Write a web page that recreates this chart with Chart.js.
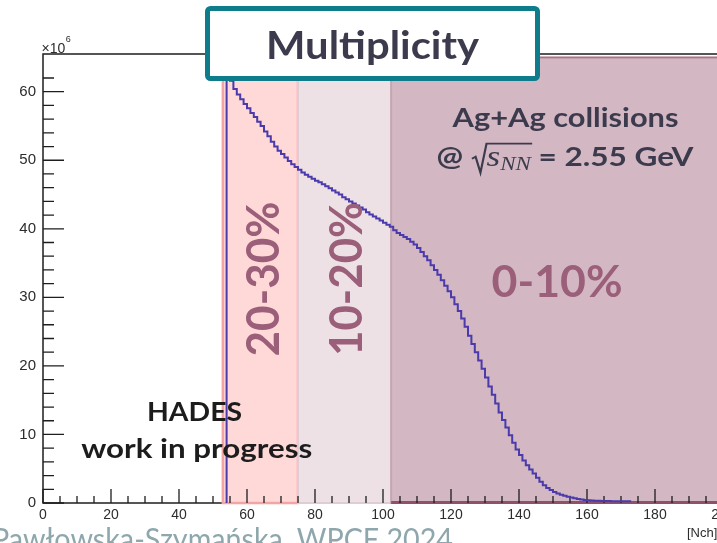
<!DOCTYPE html>
<html>
<head>
<meta charset="utf-8">
<script src="https://cdn.jsdelivr.net/npm/chart.js@4/dist/chart.umd.min.js"></script>
<style>
  html, body { margin: 0; padding: 0; background: #fff; overflow: hidden; }
  #wrap { position: absolute; left: 0; top: 0; width: 760px; height: 543px; }
</style>
</head>
<body>
<div id="wrap"><canvas id="c" width="760" height="543"></canvas></div>
<script>
// Events with multiplicity >= Nch, in units of 10^6, one value per unit bin starting at binStart
const binStart = 54;
const counts = [
  63.5, 61.6, 60.4, 59.6, 58.9, 58.2, 57.6, 56.9, 56.3, 55.6,   // 54-63
  55.0, 54.2, 53.5, 52.7, 52.0, 51.4, 50.9, 50.4, 49.9, 49.4,   // 64-73
  49.0, 48.6, 48.2, 47.9, 47.6, 47.3, 47.0, 46.8, 46.5, 46.2,   // 74-83
  45.9, 45.6, 45.3, 45.0, 44.6, 44.3, 44.0, 43.7, 43.4, 43.1,   // 84-93
  42.8, 42.4, 42.1, 41.8, 41.5, 41.2, 40.9, 40.6, 40.3, 39.8,   // 94-103
  39.4, 39.1, 38.8, 38.5, 38.1, 37.7, 37.2, 36.6, 36.0, 35.4,   // 104-113
  34.7, 34.0, 33.3, 32.5, 31.7, 30.9, 30.0, 29.0, 28.0, 26.9,   // 114-123
  25.7, 24.4, 23.2, 22.0, 20.8, 19.6, 18.3, 17.0, 15.8, 14.5,   // 124-133
  13.2, 12.1, 11.0, 9.9, 8.8, 7.8, 7.0, 6.2, 5.5, 4.9,          // 134-143
  4.3, 3.7, 3.1, 2.6, 2.2, 1.9, 1.6, 1.4, 1.2, 1.05,            // 144-153
  0.9, 0.8, 0.7, 0.6, 0.5, 0.45, 0.4, 0.35, 0.33, 0.31,         // 154-163
  0.3, 0.29, 0.28, 0.27, 0.27, 0.26, 0.26, 0.25, 0.25           // 164-172
];

// Centrality classes along Nch
const bandLabels = ['20-30%', '10-20%', '0-10%'];
const bandFrom = [52.9, 75.0, 102.4];
const bandTo = [75.0, 102.4, 200];
const bandTop = 65;

// Axis ranges and tick steps
const xMin = 0, xMax = 200, xStep = 5, xLabelEvery = 20;
const yMin = 0, yMax = 65.5, yStep = 2, yLabelEvery = 10;

const titleText = 'Multiplicity';
const systemText = 'Ag+Ag collisions';
const hadesText = ['HADES', 'work in progress'];
const footerText = 'Pawłowska-Szymańska, WPCF 2024';
const xTitle = '[Nch]';

// Histogram outline points: one point at each bin's low edge
const points = [{ x: binStart, y: 0 }]
  .concat(counts.map((c, i) => ({ x: binStart + i, y: c })))
  .concat([{ x: binStart + counts.length, y: counts[counts.length - 1] }]);

const bandFill = ['#ffd8d8', '#ede1e6', '#d3b8c3'];
const bandEdge = ['#f5a4a4', '#e0ccd5', '#c6a4b3'];
const labelColor = '#9b5f7a';
const darkText = '#3c3b4e';

// draw a string stretched horizontally to a given width
function fitText(ctx, str, x, baseY, font, width, align) {
  ctx.font = font;
  const w = ctx.measureText(str).width;
  ctx.save();
  ctx.translate(x, baseY);
  ctx.scale(width / w, 1);
  ctx.textAlign = align || 'center';
  ctx.textBaseline = 'alphabetic';
  ctx.fillText(str, 0, 0);
  ctx.restore();
}

function drawEnergyLine(ctx, left, base, width) {
  const bold = 'bold 26px Lato';
  const ital = 'italic 29px "Liberation Serif"';
  const sub = 'italic 19px "Liberation Serif"';
  const parts = [
    { t: '@ ', f: bold },
    { sqrt: true, w: 13 },
    { t: 's', f: ital, dy: 0 },
    { t: 'NN', f: sub, dy: 4 },
    { t: ' = 2.55 GeV', f: bold }
  ];
  let total = 0;
  parts.forEach(p => {
    if (p.sqrt) { p.wd = p.w; } else { ctx.font = p.f; p.wd = ctx.measureText(p.t).width; }
    total += p.wd;
  });
  const k = width / total;
  ctx.save();
  ctx.translate(left, base);
  ctx.scale(k, 1);
  ctx.textAlign = 'left';
  ctx.textBaseline = 'alphabetic';
  ctx.fillStyle = darkText;
  ctx.strokeStyle = darkText;
  let cx = 0, sqrtX = 0, barEnd = 0;
  parts.forEach(p => {
    if (p.sqrt) { sqrtX = cx; }
    else {
      ctx.font = p.f;
      ctx.fillText(p.t, cx, p.dy || 0);
      if (p.t === 'NN') barEnd = cx + p.wd;
    }
    cx += p.wd;
  });
  ctx.lineWidth = 1.8;
  ctx.lineJoin = 'miter';
  ctx.beginPath();
  ctx.moveTo(sqrtX + 1, -7);
  ctx.lineTo(sqrtX + 4, -9);
  ctx.lineTo(sqrtX + 8, 7);
  ctx.lineTo(sqrtX + 13, -22);
  ctx.lineTo(barEnd + 1, -22);
  ctx.stroke();
  ctx.restore();
}

const decor = {
  id: 'decor',
  beforeDatasetsDraw(chart) {
    const { ctx, chartArea: a, scales: { x, y } } = chart;
    ctx.save();
    // frame
    ctx.strokeStyle = '#1e1e1e';
    ctx.lineWidth = 1.5;
    ctx.strokeRect(a.left, a.top, a.right - a.left, a.bottom - a.top);

    // centrality bands
    const yb = y.getPixelForValue(0), yt = y.getPixelForValue(bandTop);
    bandLabels.forEach((_, i) => {
      const x0 = x.getPixelForValue(bandFrom[i]);
      const x1 = x.getPixelForValue(bandTo[i]);
      ctx.fillStyle = bandFill[i];
      ctx.fillRect(x0, yt, x1 - x0, yb - yt);
      ctx.strokeStyle = bandEdge[i];
      ctx.lineWidth = i === 0 ? 2.5 : 2;
      ctx.strokeRect(x0, yt, x1 - x0, yb - yt);
    });
    // darker rims of the central band
    const c0 = x.getPixelForValue(bandFrom[2]), c1 = x.getPixelForValue(bandTo[2]);
    ctx.strokeStyle = '#a87489';
    ctx.lineWidth = 1.5;
    ctx.beginPath(); ctx.moveTo(c0, yt); ctx.lineTo(c1, yt); ctx.stroke();
    ctx.strokeStyle = '#8f5069';
    ctx.lineWidth = 3;
    ctx.beginPath(); ctx.moveTo(c0, yb - 0.5); ctx.lineTo(c1, yb - 0.5); ctx.stroke();

    // tick marks pointing into the frame
    ctx.strokeStyle = '#1e1e1e';
    ctx.lineWidth = 1.3;
    ctx.beginPath();
    x.ticks.forEach(t => {
      if (t.value % xStep !== 0) return;
      const px = x.getPixelForValue(t.value);
      const len = t.value % xLabelEvery === 0 ? 14 : 7;
      ctx.moveTo(px, a.bottom);
      ctx.lineTo(px, a.bottom - len);
    });
    y.ticks.forEach(t => {
      if (t.value % yStep !== 0) return;
      const py = y.getPixelForValue(t.value);
      const len = t.value % yLabelEvery === 0 ? 21 : 11;
      ctx.moveTo(a.left, py);
      ctx.lineTo(a.left + len, py);
    });
    ctx.stroke();
    ctx.restore();
  },
  afterDatasetsDraw(chart) {
    const { ctx, chartArea: a, scales: { x, y } } = chart;
    ctx.save();

    // centrality labels
    ctx.fillStyle = labelColor;
    const vertical = [
      { i: 0, base: 279.3, len: 155 },
      { i: 1, base: 362.3, len: 154 }
    ];
    vertical.forEach(v => {
      const cy = 279;
      ctx.save();
      ctx.translate(v.base, cy);
      ctx.rotate(-Math.PI / 2);
      fitText(ctx, bandLabels[v.i], 0, 0, 'bold 45px Lato', v.len, 'center');
      ctx.restore();
    });
    const cMid = (x.getPixelForValue(bandFrom[2]) + a.right) / 2;
    fitText(ctx, bandLabels[2], cMid, 297.3, 'bold 43px Lato', 131, 'center');

    // collision system
    ctx.fillStyle = darkText;
    fitText(ctx, systemText, 565.5, 126.7, 'bold 26px Lato', 226, 'center');
    drawEnergyLine(ctx, 436.5, 165.7, 257);

    // experiment tag
    ctx.fillStyle = '#1c1c1c';
    fitText(ctx, hadesText[0], 194.5, 420.7, 'bold 26.5px Lato', 95, 'center');
    fitText(ctx, hadesText[1], 196.7, 457.5, 'bold 26.5px Lato', 231, 'center');

    // title box
    ctx.fillStyle = '#ffffff';
    ctx.strokeStyle = '#0e7c8a';
    ctx.lineWidth = 5;
    ctx.beginPath();
    ctx.roundRect(207.5, 8.5, 330, 70, 3);
    ctx.fill();
    ctx.stroke();
    ctx.fillStyle = darkText;
    fitText(ctx, titleText, 372.5, 58.5, 'bold 39px Lato', 213, 'center');

    // axis annotations: exponent of the y axis and x-axis title
    ctx.fillStyle = '#2c2c2c';
    ctx.textAlign = 'left';
    ctx.textBaseline = 'alphabetic';
    ctx.font = '14px "Liberation Sans"';
    const mult = '\u00d710';
    ctx.fillText(mult, 41.5, 52.5);
    const mw = ctx.measureText(mult).width;
    ctx.font = '9px "Liberation Sans"';
    ctx.fillText('6', 41.5 + mw + 0.5, 42);
    ctx.font = '13px "Liberation Sans"';
    ctx.fillText(xTitle, 687, 537);

    // footer
    ctx.fillStyle = '#8ea7ac';
    fitText(ctx, footerText, -8, 550, '30px Lato', 461, 'left');
    ctx.restore();
  }
};

new Chart(document.getElementById('c'), {
  type: 'line',
  data: {
    datasets: [{
      data: points,
      stepped: 'before',
      borderColor: '#4a3aab',
      borderWidth: 2,
      pointRadius: 0,
      fill: false,
      tension: 0
    }]
  },
  options: {
    responsive: false,
    animation: false,
    devicePixelRatio: 1,
    layout: { padding: { top: 54, right: 37, left: 0, bottom: 0 } },
    plugins: { legend: { display: false }, tooltip: { enabled: false } },
    scales: {
      x: {
        type: 'linear', min: xMin, max: xMax,
        grid: { display: false, drawTicks: false },
        border: { display: false },
        ticks: {
          stepSize: xStep, autoSkip: false, maxRotation: 0, padding: 4,
          color: '#2c2c2c', font: { family: 'Liberation Sans', size: 14 },
          callback: v => (v % xLabelEvery === 0 ? String(v) : '')
        },
        afterFit: s => { s.height = 40; }
      },
      y: {
        type: 'linear', min: yMin, max: yMax,
        grid: { display: false, drawTicks: false },
        border: { display: false },
        ticks: {
          stepSize: yStep, autoSkip: false, padding: 7,
          color: '#2c2c2c', font: { family: 'Liberation Sans', size: 15 },
          callback: v => (v % yLabelEvery === 0 ? String(v) : '')
        },
        afterFit: s => { s.width = 43; }
      }
    }
  },
  plugins: [decor]
});
</script>
</body>
</html>
